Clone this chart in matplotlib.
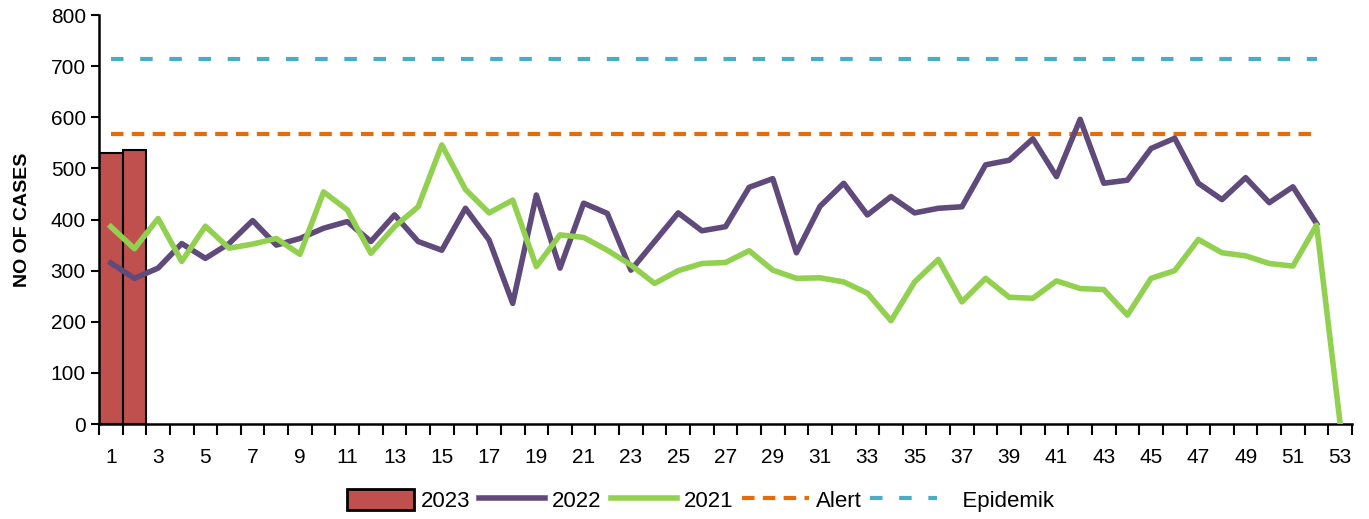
import matplotlib.pyplot as plt
import numpy as np
from matplotlib.ticker import FixedLocator

plt.rcParams['font.family'] = ['Liberation Sans', 'DejaVu Sans']

weeks = np.arange(1, 54)

cases_2023 = [531, 537]

cases_2022 = [315, 285, 305, 353, 324, 353, 398, 350, 363, 383,
              396, 357, 409, 357, 340, 422, 360, 236, 448, 305,
              432, 412, 301, 357, 413, 378, 386, 463, 480, 335,
              426, 471, 409, 445, 413, 422, 425, 507, 516, 558,
              484, 596, 471, 477, 539, 559, 471, 439, 482, 433,
              464, 392]

cases_2021 = [386, 343, 402, 318, 387, 344, 352, 363, 332, 454,
              419, 334, 386, 425, 546, 459, 413, 438, 308, 370,
              365, 340, 311, 275, 300, 314, 316, 339, 301, 285,
              286, 278, 256, 202, 278, 322, 239, 285, 248, 246,
              280, 265, 263, 213, 285, 300, 361, 335, 329, 314,
              309, 389, 0]

alert = 567
epidemic = 714

fig = plt.figure(figsize=(13.69, 5.19), dpi=100)
ax = fig.add_axes([0.0723, 0.183, 0.9153, 0.788])

ax.bar(weeks[:len(cases_2023)], cases_2023, width=1.0, color='#C0504D',
       edgecolor='black', linewidth=1.5, label='2023', zorder=2)
ax.plot(weeks[:len(cases_2022)], cases_2022, color='#604A7B', linewidth=4,
        label='2022', zorder=3)
ax.plot(weeks[:len(cases_2021)], cases_2021, color='#92D050', linewidth=4,
        label='2021', zorder=3)
ax.plot(weeks[:52], [alert] * 52, color='#E46C0A', linewidth=3,
        linestyle=(0, (3, 2)), label='Alert', zorder=2)
ax.plot(weeks[:52], [epidemic] * 52, color='#4BACC6', linewidth=3,
        linestyle=(0, (3, 4)), label='   Epidemik', zorder=2)

ax.set_xlim(0.5, 53.5)
ax.set_ylim(0, 800)
ax.set_yticks(np.arange(0, 801, 100))
ax.set_xticks(np.arange(1, 54, 2))
ax.xaxis.set_minor_locator(FixedLocator(np.arange(0.5, 54, 1)))
ax.tick_params(axis='x', which='major', length=0, labelsize=15, pad=17)
ax.tick_params(axis='x', which='minor', length=8, width=1.5, direction='out')
ax.tick_params(axis='y', length=6, width=1.5, labelsize=15)

for s in ['top', 'right']:
    ax.spines[s].set_visible(False)
for s in ['left', 'bottom']:
    ax.spines[s].set_linewidth(1.8)

ax.set_ylabel('NO OF CASES', fontsize=14, fontweight='bold', labelpad=14)

handles, labels = ax.get_legend_handles_labels()
order = [labels.index(l) for l in ['2023', '2022', '2021', 'Alert', '   Epidemik']]
leg = ax.legend([handles[i] for i in order], [labels[i] for i in order],
                loc='center', bbox_to_anchor=(0.48, -0.187), ncol=5,
                frameon=False, fontsize=16, handlelength=3.0, handleheight=1.1,
                handletextpad=0.3, columnspacing=0.4)
leg.legend_handles[0].set_linewidth(2)

plt.savefig('out.png', dpi=100)
